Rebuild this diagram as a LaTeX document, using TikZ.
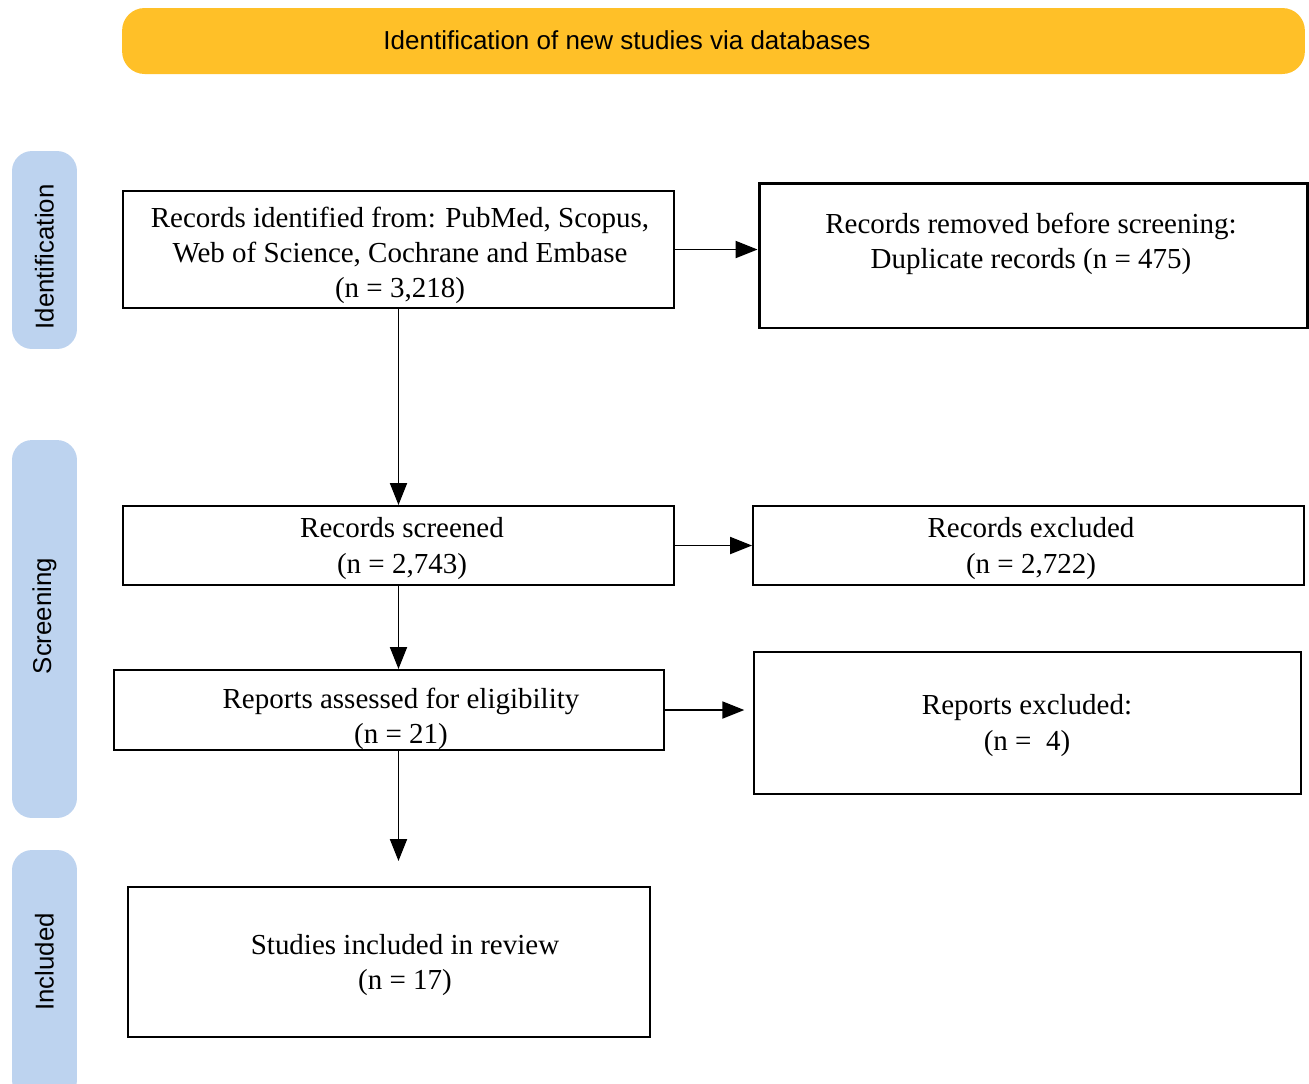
\documentclass[tikz,border=0pt]{standalone}
\usepackage{fontspec}
\setmainfont{Liberation Serif}
\setsansfont{Liberation Sans}
\usepackage{xcolor}
\usepackage{tikz}
\usetikzlibrary{arrows.meta,positioning,calc}

\definecolor{bannerorange}{RGB}{255,192,40}
\definecolor{phaseblue}{RGB}{189,211,239}

\tikzset{
	recbox/.style={draw,line width=1.1pt,inner sep=0pt},
	rectext/.style={align=center,font=\fontsize{16.5}{20}\selectfont},
	phasebar/.style={fill=phaseblue,rounded corners=0.4cm,minimum width=1.3cm,inner sep=0pt},
	phasetext/.style={rotate=90,font=\sffamily\fontsize{14.7}{17}\selectfont},
	flow/.style={line width=1.1pt,-{Triangle[length=0.44cm,width=0.34cm]}}
}

\begin{document}
\begin{tikzpicture}[x=0.02cm,y=-0.02cm]
	\useasboundingbox (0,0) rectangle (1309,1083);
	% banner on top
	\node[fill=bannerorange,rounded corners=0.45cm,minimum width=23.66cm,minimum height=1.32cm,inner sep=0pt] (banner) at (713.5,41) {};
	\node[font=\sffamily\fontsize{14.8}{17}\selectfont] (bannertxt) at (627,40) {Identification of new studies via databases};
	% phases on the left
	\node[phasebar,minimum height=3.96cm] (identbar) at (44.5,250) {};
	\node[phasetext] (identtxt) at (44.5,257) {Identification};
	\node[phasebar,minimum height=7.56cm] (screenbar) at (44.5,629) {};
	\node[phasetext] (screentxt) at (44.5,616) {Screening};
	\node[phasebar,minimum height=5cm] (inclbar) at (44.5,975) {};
	\node[phasetext] (incltxt) at (44.5,962) {Included};
	% boxes
	\node[recbox,minimum width=11.02cm,minimum height=2.34cm] (records) at (398.5,249.5) {};
	\node[rectext] (recordstxt) at (400,255.5) {Records identified from: PubMed, Scopus,\\Web of Science, Cochrane and Embase\\(n = 3,218)};
	\node[recbox,line width=1.7pt,minimum width=10.98cm,minimum height=2.9cm] (removed) at (1033.5,255.5) {};
	\node[rectext] (removedtxt) at (1031,243.5) {Records removed before screening:\\Duplicate records (n = 475)};
	\node[recbox,minimum width=11.02cm,minimum height=1.58cm] (screened) at (398.5,545.5) {};
	\node[rectext] (screenedtxt) at (402,548.5) {Records screened\\(n = 2,743)};
	\node[recbox,minimum width=11.02cm,minimum height=1.58cm] (excluded) at (1028.5,545.5) {};
	\node[rectext] (excludedtxt) at (1031,548.5) {Records excluded\\(n = 2,722)};
	\node[recbox,minimum width=11cm,minimum height=1.6cm] (assessed) at (389,710) {};
	\node[rectext] (assessedtxt) at (401,718.5) {Reports assessed for eligibility\\(n = 21)};
	\node[recbox,minimum width=10.94cm,minimum height=2.84cm] (rexcluded) at (1027.5,723) {};
	\node[rectext] (rexcludedtxt) at (1027,725.5) {Reports excluded:\\(n =\ \ 4)};
	\node[recbox,minimum width=10.44cm,minimum height=3cm] (included) at (389,962) {};
	\node[rectext] (includedtxt) at (405,965) {Studies included in review\\(n = 17)};
	% arrows
	\draw[flow] (records.east) -- (records.east -| removed.west);
	\draw[flow] (records.south) -- (screened.north);
	\draw[flow] (screened.east) -- (excluded.west);
	\draw[flow] (screened.south) -- (screened.south |- assessed.north);
	\draw[flow,shorten >=5pt] (assessed.east) -- (assessed.east -| rexcluded.west);
	\draw[flow,shorten >=0.5cm] (screened.south |- assessed.south) -- (screened.south |- included.north);
\end{tikzpicture}
\end{document}
